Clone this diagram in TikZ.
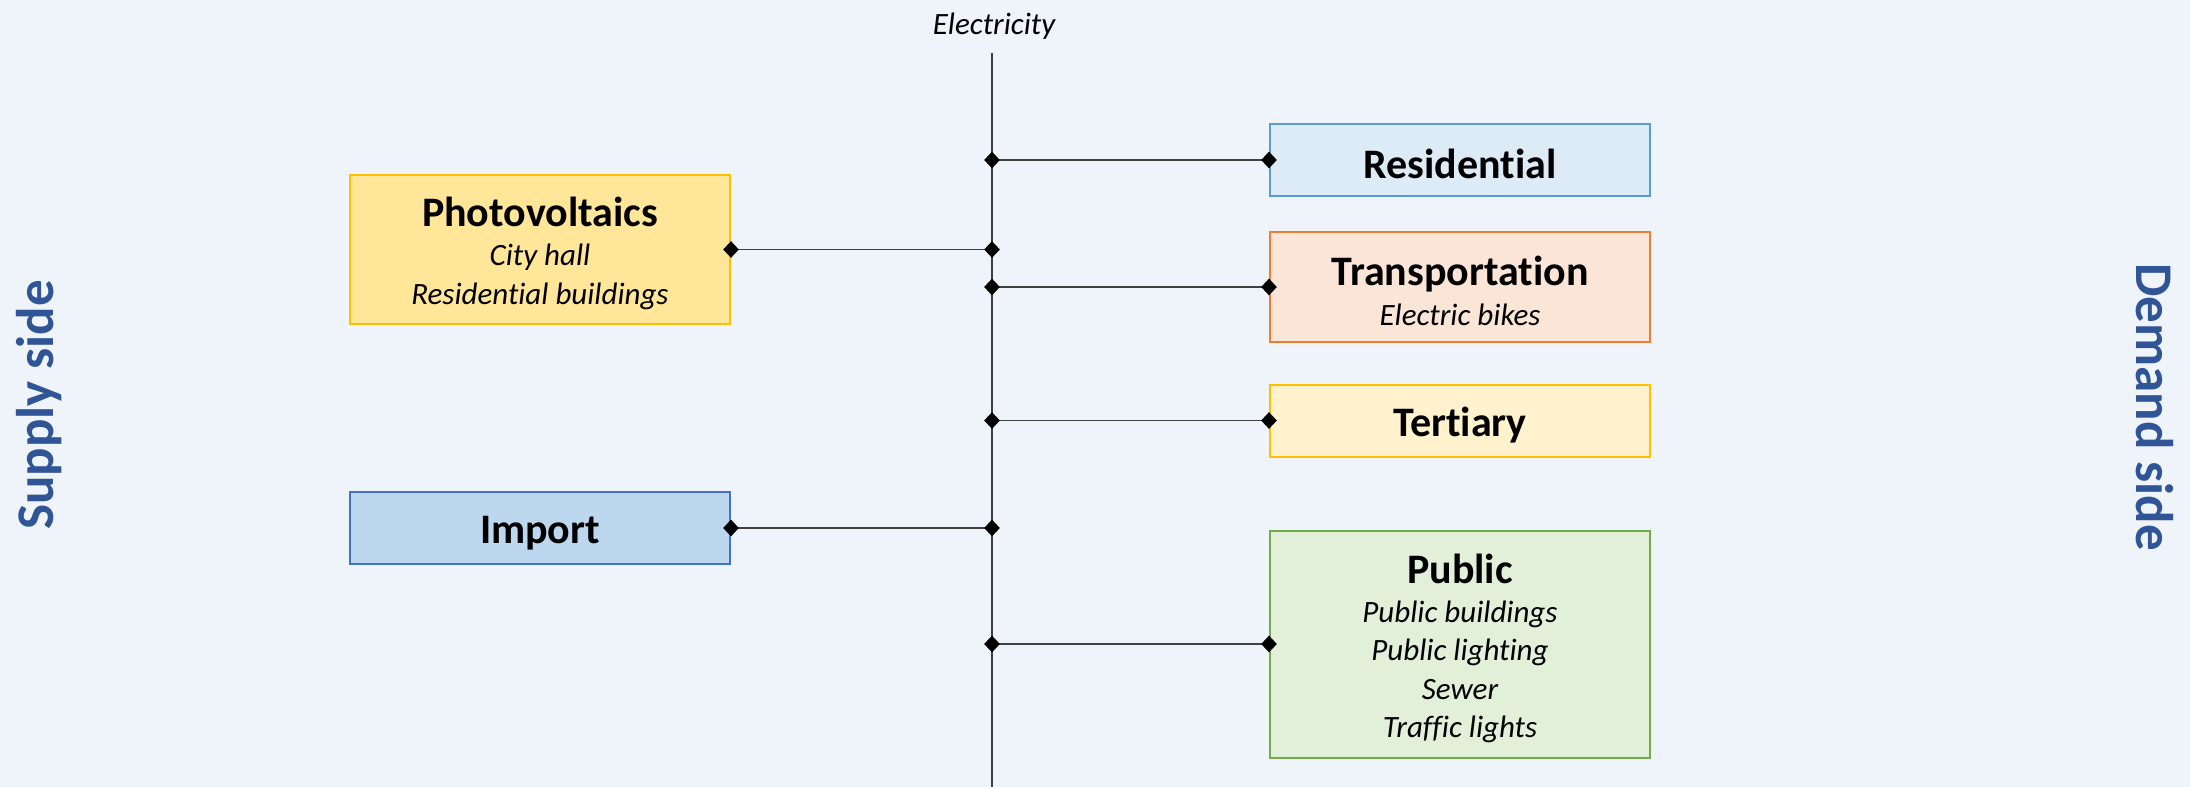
\documentclass[tikz,border=0pt]{standalone}
\usepackage{fontspec}
\setmainfont[Ligatures=NoCommon]{Carlito}
\usetikzlibrary{shapes.geometric}
\definecolor{bgc}{HTML}{EFF3FA}
\definecolor{pvfill}{HTML}{FFE699}
\definecolor{pvdraw}{HTML}{FFC000}
\definecolor{resfill}{HTML}{DDEBF7}
\definecolor{resdraw}{HTML}{5B9BD5}
\definecolor{trfill}{HTML}{FBE5D6}
\definecolor{trdraw}{HTML}{ED7D31}
\definecolor{tefill}{HTML}{FFF2CC}
\definecolor{tedraw}{HTML}{FFC000}
\definecolor{pufill}{HTML}{E2F0D9}
\definecolor{pudraw}{HTML}{70AD47}
\definecolor{imfill}{HTML}{BDD7EE}
\definecolor{imdraw}{HTML}{4472C4}
\definecolor{sidec}{HTML}{2F5597}
\definecolor{linec}{HTML}{404040}
\newcommand\boxttl[1]{{\fontsize{21}{25}\selectfont\bfseries\upshape\rule{0pt}{0.9em}#1}}
\begin{document}
\begin{tikzpicture}[x=0.5pt,y=-0.5pt,
  box/.style={draw, line width=1pt, align=center, inner sep=0pt,
    minimum width=190pt, font=\fontsize{15.5}{19.25}\selectfont\itshape},
  conn/.style={draw=linec, line width=0.9pt},
  dia/.style={diamond, fill=black, draw=none, inner sep=0pt, minimum width=8pt, minimum height=8.5pt},
  sidelbl/.style={text=sidec, font=\fontsize{26.5}{30}\selectfont\bfseries}
]
\fill[bgc] (0,0) rectangle (2190,787);
\useasboundingbox (0,0) rectangle (2190,787);

% trunk
\node[font=\fontsize{15.5}{18}\selectfont\itshape, inner sep=0pt] (elec) at (994,26) {Electricity};
\coordinate (top) at (992,53);
\coordinate (bot) at (992,787);
\draw[conn] (top) -- (bot);

% supply
\node[box, fill=pvfill, draw=pvdraw, minimum height=74.5pt] (pv) at (540,249.5)
  {\boxttl{Photovoltaics}\\[0.25pt] City hall\\ Residential buildings};
\node[box, fill=imfill, draw=imdraw, minimum height=36pt] (imp) at (540,528)
  {\boxttl{Import}};

% demand
\node[box, fill=resfill, draw=resdraw, minimum height=36pt] (res) at (1460,160)
  {\boxttl{Residential}};
\node[box, fill=trfill, draw=trdraw, minimum height=55pt] (tra) at (1460,287)
  {\boxttl{Transportation}\\[0.75pt] Electric bikes};
\node[box, fill=tefill, draw=tedraw, minimum height=36pt] (ter) at (1460,420.5)
  {\boxttl{Tertiary}};
\node[box, fill=pufill, draw=pudraw, minimum height=113.5pt] (pub) at (1460,644)
  {\boxttl{Public}\\[0.25pt] Public buildings\\ Public lighting\\ Sewer\\ Traffic lights};

% connectors
\foreach \n/\s in {pv/east, imp/east, res/west, tra/west, ter/west, pub/west}{
  \draw[conn] (\n.\s) -- (\n.\s -| top);
  \node[dia] at (\n.\s) {};
  \node[dia] at (\n.\s -| top) {};
}

% side labels
\node[sidelbl, rotate=90] (supply) at (39,405) {Supply side};
\node[sidelbl, rotate=-90] (demand) at (2155,407) {Demand side};
\end{tikzpicture}
\end{document}
